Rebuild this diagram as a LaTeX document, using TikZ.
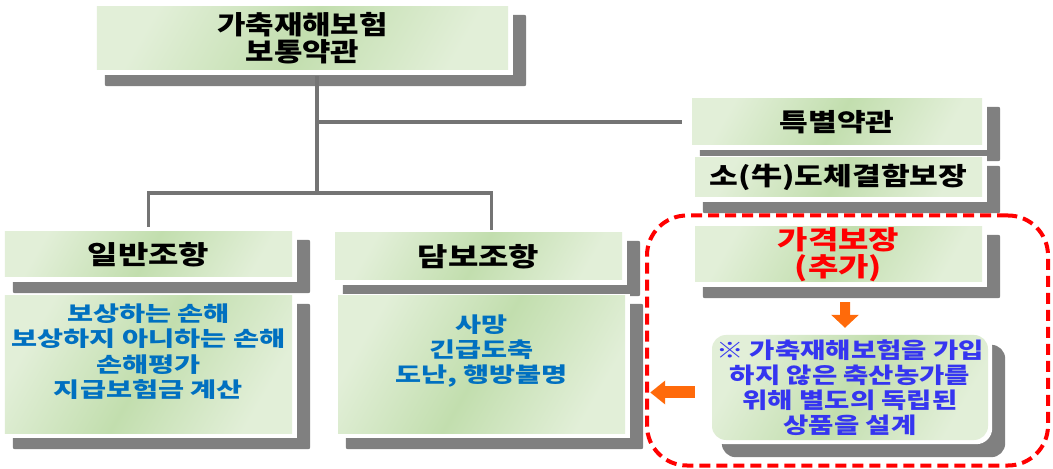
\documentclass[tikz,border=0pt]{standalone}
\usepackage{fontspec}
\newfontfamily\krT{Noto Sans CJK KR}[FakeStretch=1.19]
\newfontfamily\krA{Noto Sans CJK KR}[FakeStretch=1.27]
\newfontfamily\krS{Noto Sans CJK KR}[FakeStretch=1.25]
\newfontfamily\krB{Noto Sans CJK KR}[FakeStretch=1.35]
\newfontfamily\krC{Noto Sans CJK KR}[FakeStretch=1.25]
\usetikzlibrary{arrows.meta}
\pgfdeclarelayer{bg}
\pgfsetlayers{bg,main}
\definecolor{lg}{HTML}{E2EFD8}
\definecolor{mg}{HTML}{C2DEAE}
\definecolor{shc}{HTML}{808080}
\definecolor{linec}{HTML}{747474}
\definecolor{blu}{HTML}{0070C0}
\definecolor{bblu}{HTML}{3535F0}
\definecolor{org}{HTML}{FF6A0A}
\tikzset{
  gbox/.style={inner sep=0pt, left color=lg, right color=lg, middle color=mg, shading angle=60},
  hdr/.style={gbox, font=\krA\bfseries\fontsize{26bp}{28bp}\selectfont, text=black, align=center},
  body/.style={gbox, font=\krB\bfseries\fontsize{21bp}{25bp}\selectfont, text=blu},
  conn/.style={draw=linec, line width=3.5bp},
  frame/.style={draw=red, line width=4bp, dash pattern=on 11bp off 6bp, rounded corners=40bp, inner sep=0pt}
}
\begin{document}
\begin{tikzpicture}[x=1bp,y=-1bp]
\useasboundingbox (0,0) rectangle (1053,469);
% dashed frame
\node[frame, minimum width=401bp, minimum height=250bp] (fr) at (847.5,340.5) {};
% boxes
\node[hdr, font=\krT\bfseries\fontsize{26bp}{27bp}\selectfont, minimum width=411bp, minimum height=63bp] (top) at (302.5,38.5) {가축재해보험\\보통약관};
\node[hdr, font=\krS\bfseries\fontsize{25bp}{26bp}\selectfont, minimum width=290bp, minimum height=46bp] (spec) at (837,122) {특별약관};
\node[hdr, font=\krS\bfseries\fontsize{25bp}{26bp}\selectfont, minimum width=287bp, minimum height=39bp] (cattle) at (838.5,177.5) {소(牛)도체결함보장};
\node[hdr, minimum width=287bp, minimum height=45bp] (gen) at (148.5,254.5) {일반조항};
\node[hdr, minimum width=287bp, minimum height=47bp] (dam) at (478.5,256.5) {담보조항};
\node[body, minimum width=287bp, minimum height=137bp] (genc) at (148.5,364.5)
  {\raisebox{10bp}[\height][\depth]{\begin{tabular}{@{}c@{}}보상하는 손해\\보상하지 아니하는 손해\\손해평가\\지급보험금 계산\end{tabular}}};
\node[body, minimum width=287bp, minimum height=137bp] (damc) at (481.5,364.5)
  {\raisebox{12bp}[\height][\depth]{\begin{tabular}{@{}c@{}}사망\\긴급도축\\도난, 행방불명\end{tabular}}};
\node[hdr, font=\krA\bfseries\fontsize{26bp}{27bp}\selectfont, text=red, minimum width=287bp, minimum height=55bp] (price) at (838.5,254.5) {가격보장\\(추가)};
\node[gbox, rounded corners=14bp, font=\krC\bfseries\fontsize{22bp}{25bp}\selectfont, text=bblu, align=center,
  minimum width=276bp, minimum height=105bp] (bubble) at (850,387.5)
  {※ 가축재해보험을 가입\\하지 않은 축산농가를\\위해 별도의 독립된\\상품을 설계};
% shadows and white pads
\begin{pgfonlayer}{bg}
  \foreach \b in {top,spec,cattle,gen,dam,genc,damc,price}{
    \fill[shc, rounded corners=2bp] ([shift={(8,8)}]\b.north west) rectangle ([shift={(18,16)}]\b.south east);
  }
  \fill[shc, rounded corners=14bp] ([shift={(10,10)}]bubble.north west) rectangle ([shift={(17,17)}]bubble.south east);
  \foreach \b in {top,spec,cattle,gen,dam,genc,damc,price}{
    \fill[white] ([shift={(-2,-2)}]\b.north west) rectangle ([shift={(5,5)}]\b.south east);
  }
  \fill[white, rounded corners=16bp] ([shift={(-3,-3)}]bubble.north west) rectangle ([shift={(4,4)}]bubble.south east);
\end{pgfonlayer}
% connectors
\coordinate (j1) at (317,122);
\coordinate (j2) at (317,193);
\draw[conn] ([shift={(0,6)}]top.south -| j1) -- (j2);
\draw[conn] (j1) -- ([shift={(-10,0)}]spec.west);
\draw[conn] (j2) -| ([shift={(0,-5)}]gen.north);
\draw[conn] (j2) -| ([shift={(13,-3)}]dam.north);
% orange arrows
\draw[org, line width=10bp, -{Triangle[width=27bp,length=13bp]}] ([shift={(6.5,20)}]price.south) -- ([shift={(-5,-7)}]bubble.north);
\coordinate (la) at (damc.east |- bubble.west);
\draw[org, line width=12bp, -{Triangle[width=23bp,length=15bp]}] ([shift={(-17,5)}]bubble.west) -- ([shift={(25,5)}]la);
\end{tikzpicture}
\end{document}
